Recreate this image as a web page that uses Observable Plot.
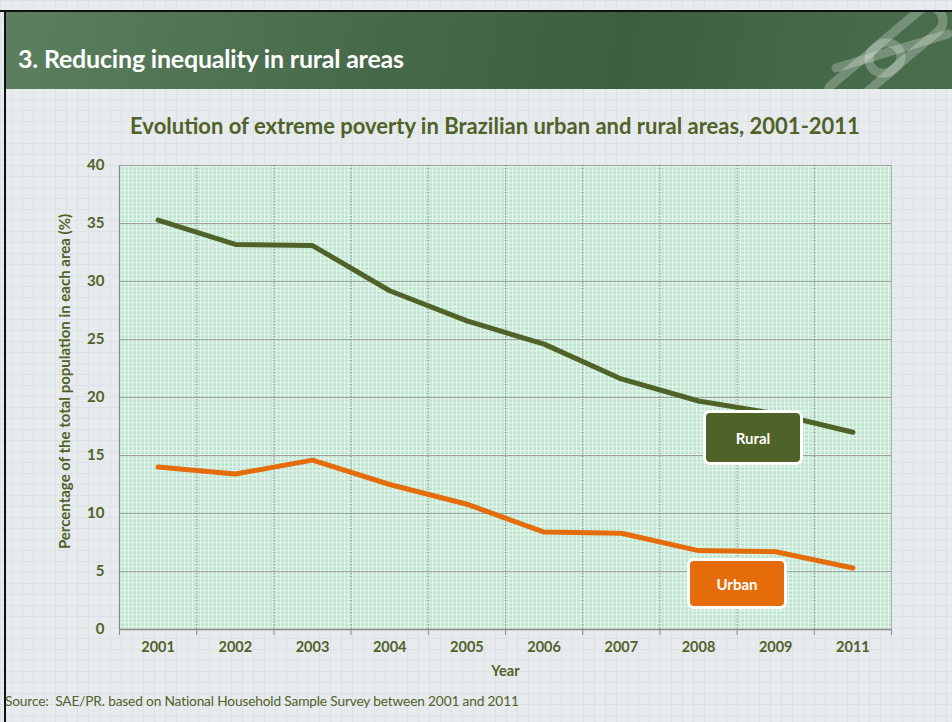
<!DOCTYPE html>
<html>
<head>
<meta charset="utf-8">
<script src="https://cdn.jsdelivr.net/npm/d3@7"></script>
<script src="https://cdn.jsdelivr.net/npm/@observablehq/plot@0.6"></script>
<style>
  html, body { margin: 0; padding: 0; }
  #slide {
    position: relative; width: 952px; height: 722px; overflow: hidden;
    background-color: #e7ebee;
    background-image: linear-gradient(#dde2e7 1px, transparent 1px), linear-gradient(90deg, #dde2e7 1px, transparent 1px);
    background-size: 11px 11px;
    font-family: Lato, "Open Sans", sans-serif;
  }
  #topline { position: absolute; left: 0; top: 10px; width: 952px; height: 2px; background: #111; }
  #leftline { position: absolute; left: 4px; top: 10px; width: 2px; height: 712px; background: #111; }
  #header {
    position: absolute; left: 6px; top: 12px; width: 946px; height: 77px;
    background: linear-gradient(100deg, #5c805e 0%, #46694a 40%, #3b5f40 65%, #4b6f4e 100%);
    overflow: hidden;
  }
  #header h1 {
    position: absolute; left: 12px; top: 31px; margin: 0; color: #fff; line-height: 1.2;
    font-family: Lato, sans-serif; font-weight: 700; font-size: 25px; letter-spacing: -0.2px; white-space: nowrap;
  }
  #header svg { position: absolute; left: 800px; top: 0; }
  #title {
    position: absolute; left: 0; width: 990px; top: 113px; text-align: center; line-height: 1.2;
    color: #4f6228; font-weight: 700; font-size: 22px; white-space: nowrap;
  }
  #chart { position: absolute; left: 0; top: 150px; }
  .tag {
    position: absolute; box-sizing: border-box; border: 3px solid #fff; border-radius: 7px;
    color: #fff; font-weight: 700; font-size: 15px; display: flex; align-items: center; justify-content: center;
  }
  #source {
    position: absolute; left: 5px; top: 692px; color: #4f6228; font-size: 13.7px; letter-spacing: -0.15px; white-space: nowrap;
  }
</style>
</head>
<body>
<div id="slide">
  <div id="header">
    <h1>3. Reducing inequality in rural areas</h1>
    <svg width="146" height="77" viewBox="0 0 146 77">
      <g fill="none" stroke="rgba(255,255,255,0.25)" stroke-width="9" stroke-linecap="round">
        <rect x="-44" y="-14" width="88" height="28" rx="14" transform="translate(100 28) rotate(-40)"/>
        <rect x="-44" y="-14" width="88" height="28" rx="14" transform="translate(58 64) rotate(-40)"/>
        <line x1="30" y1="56" x2="142" y2="22"/>
      </g>
    </svg>
  </div>
  <div id="topline"></div>
  <div id="leftline"></div>
  <div id="title">Evolution of extreme poverty in Brazilian urban and rural areas, 2001-2011</div>
  <div id="chart"></div>
  <div class="tag" style="left:703px;top:410px;width:100px;height:55px;background:#4f6228;">Rural</div>
  <div class="tag" style="left:687px;top:558px;width:100px;height:51px;background:#e46c0a;">Urban</div>
  <div id="source">Source:&nbsp; SAE/PR. based on National Household Sample Survey between 2001 and 2011</div>
</div>
<script>
const years = ["2001", "2002", "2003", "2004", "2005", "2006", "2007", "2008", "2009", "2011"];
const rural = [35.3, 33.2, 33.1, 29.2, 26.6, 24.6, 21.6, 19.7, 18.6, 17.0];
const urban = [14.0, 13.4, 14.6, 12.5, 10.8, 8.4, 8.3, 6.8, 6.7, 5.3];
const yTicks = [0, 5, 10, 15, 20, 25, 30, 35, 40];
const areas = ["Rural", "Urban"];
const colors = ["#4f6228", "#e46c0a"];

const data = years.flatMap((year, i) => [
  {i, year, area: "Rural", value: rural[i]},
  {i, year, area: "Urban", value: urban[i]}
]);
const idx = d3.range(years.length);
const bounds = d3.range(years.length + 1).map(k => k - 0.5);
const olive = "#4f6228";

// background pattern for plot area
function patternFrame(index, scales, values, dimensions) {
  const {width, height, marginLeft, marginRight, marginTop, marginBottom} = dimensions;
  const ns = "http://www.w3.org/2000/svg";
  const g = document.createElementNS(ns, "g");
  g.innerHTML = `<defs><pattern id="mint" width="4" height="4" patternUnits="userSpaceOnUse">
      <rect width="4" height="4" fill="#bae4ce"/>
      <rect x="0" y="0" width="4" height="1.3" fill="#e3f3ea"/>
      <rect x="0" y="0" width="1.3" height="4" fill="#e3f3ea"/>
    </pattern></defs>
    <rect x="${marginLeft}" y="${marginTop}" width="${width - marginLeft - marginRight}" height="${height - marginTop - marginBottom}" fill="url(#mint)"/>`;
  return g;
}

const chart = Plot.plot({
  width: 952,
  height: 540,
  marginLeft: 119,
  marginRight: 61,
  marginTop: 15,
  marginBottom: 61,
  style: {background: "transparent", fontFamily: "Lato, sans-serif", overflow: "visible"},
  x: {type: "linear", domain: [-0.5, years.length - 0.5], axis: null},
  y: {domain: [0, 40], axis: null},
  color: {domain: areas, range: colors},
  marks: [
    patternFrame,
    Plot.ruleY(yTicks.slice(1, -1), {stroke: "#8a8a8a", strokeOpacity: 0.75, strokeWidth: 1}),
    Plot.ruleY([40], {stroke: "#a0a0a0", strokeWidth: 1}),
    Plot.ruleX(bounds.slice(1, -1), {stroke: "#7a7a7a", strokeWidth: 1, strokeDasharray: "1.5,1.5", strokeOpacity: 0.8}),
    Plot.ruleX([years.length - 0.5], {stroke: "#b0b0b0", strokeWidth: 1}),
    Plot.ruleY([0], {stroke: "#8a8a8a", strokeWidth: 1.3}),
    Plot.ruleX([-0.5], {stroke: "#8a8a8a", strokeWidth: 1.3}),
    Plot.axisX(bounds, {tickFormat: () => "", tickSize: 6, stroke: "#8a8a8a", label: null}),
    Plot.axisX(idx, {tickFormat: i => years[i], tickSize: 0, tickPadding: 12, fontWeight: "bold", fontSize: 14.5, fill: olive, label: null}),
    Plot.axisY(yTicks, {tickSize: 0, tickPadding: 15, fontWeight: "bold", fontSize: 15, fill: olive, label: null}),
    Plot.text(["Year"], {frameAnchor: "bottom", dy: 46, fontWeight: "bold", fontSize: 14.5, fill: olive}),
    Plot.text(["Percentage of the total population in each area (%)"], {frameAnchor: "left", textAnchor: "middle", rotate: -90, dx: -54, dy: -16, fontWeight: "bold", fontSize: 15, fill: olive}),
    Plot.line(data, {x: "i", y: "value", z: "area", stroke: "area", strokeWidth: 5, strokeLinejoin: "miter", strokeLinecap: "round"})
  ]
});
document.getElementById("chart").appendChild(chart);
</script>
</body>
</html>
